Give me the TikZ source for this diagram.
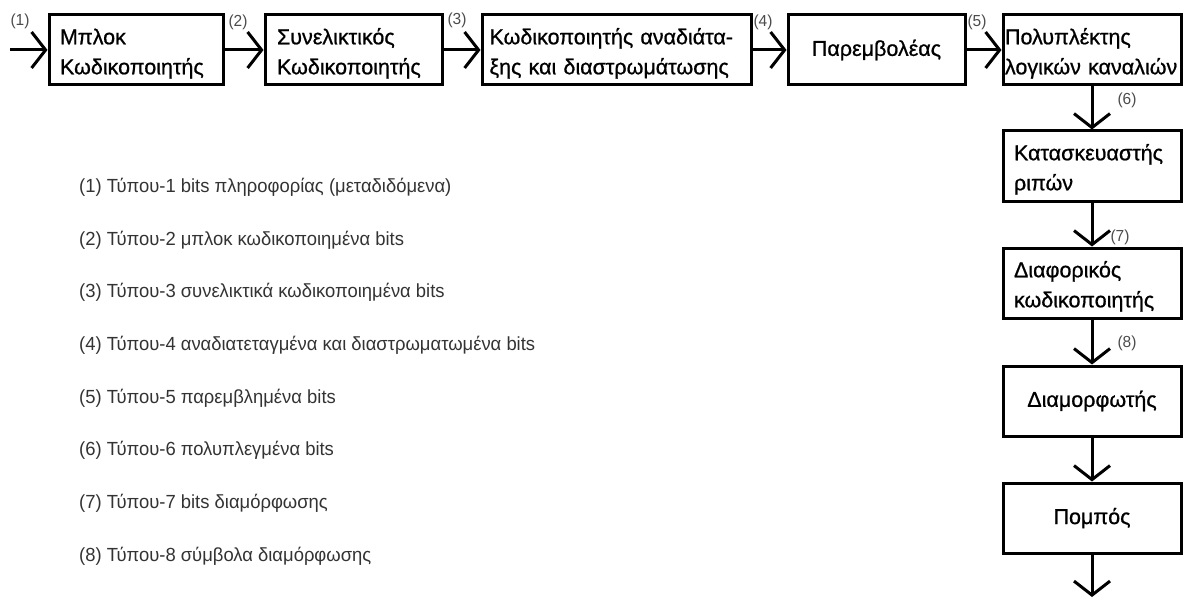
\documentclass[tikz,border=0pt]{standalone}
\usepackage{fontspec}
\setmainfont{Liberation Sans}
\newfontfamily\boxfont[FakeBold=0.8]{Liberation Sans}
\newfontfamily\narrowfont[FakeStretch=0.97]{Liberation Sans}
\usetikzlibrary{arrows.meta}
% strut that lowers the first line of two-line block labels
\newcommand{\toprule}{\rule{0pt}{23pt}}
\begin{document}
\begin{tikzpicture}[x=1pt,y=-1pt,
  block/.style={draw,line width=3pt,minimum height=70pt,inner ysep=0pt,
    font=\boxfont\fontsize{21.5}{30}\selectfont},
  flow/.style={line width=3pt,-{Straight Barb[length=14pt,width=36pt,line width=3pt]}},
  tag/.style={font=\narrowfont\fontsize{16}{16}\selectfont,text=black!70,inner sep=0pt},
  legend/.style={font=\narrowfont\fontsize{19}{19}\selectfont,text=black!80,anchor=west,inner sep=0pt}]
\useasboundingbox (0,0) rectangle (1183,599);

% processing chain, top row
\node[block,minimum width=174pt,text width=152pt,align=left] (b1) at (136,50)
  {\toprule Μπλοκ\\Κωδικοποιητής};
\node[block,minimum width=177pt,text width=153pt,align=left] (b2) at (353.5,50)
  {\toprule Συνελικτικός\\Κωδικοποιητής};
\node[block,minimum width=269pt,text width=254pt,align=left] (b3) at (616.5,50)
  {\toprule Κωδικοποιητής αναδιάτα-\\ξης και διαστρωμάτωσης};
\node[block,minimum width=177pt,align=center] (b4) at (876.5,50) {Παρεμβολέας};
\node[block,minimum width=178pt,text width=174pt,inner xsep=0pt,align=left] (b5) at (1092,50)
  {\toprule Πολυπλέκτης\\λογικών καναλιών};

% processing chain, right column
\node[block,minimum width=178pt,text width=156pt,align=left] (b6) at (1092,166)
  {\toprule Κατασκευαστής\\ριπών};
\node[block,minimum width=178pt,text width=156pt,align=left] (b7) at (1092,283)
  {\toprule Διαφορικός\\κωδικοποιητής};
\node[block,minimum width=178pt,align=center] (b8) at (1092,401) {Διαμορφωτής};
\node[block,minimum width=178pt,align=center] (b9) at (1092,518) {Πομπός};

\coordinate (in) at (10,50);
\coordinate (out) at (1092,597);

% connectors
\draw[flow] (in) -- (b1);
\draw[flow] (b1) -- (b2);
\draw[flow] (b2) -- (b3);
\draw[flow] (b3) -- (b4);
\draw[flow] (b4) -- (b5);
\draw[flow] (b5) -- (b6);
\draw[flow] (b6) -- (b7);
\draw[flow] (b7) -- (b8);
\draw[flow] (b8) -- (b9);
\draw[flow] (b9) -- (out);

% bit-type tags
\node[tag] (t1) at (20,21) {(1)};
\node[tag] (t2) at (238,22) {(2)};
\node[tag] (t3) at (457,20) {(3)};
\node[tag] (t4) at (763,22) {(4)};
\node[tag] (t5) at (977,22) {(5)};
\node[tag] (t6) at (1127,100) {(6)};
\node[tag] (t7) at (1120,237) {(7)};
\node[tag] (t8) at (1127,343) {(8)};

% legend
\node[legend] (l1) at (79,187) {(1) Τύπου-1 bits πληροφορίας (μεταδιδόμενα)};
\node[legend] (l2) at (79,240) {(2) Τύπου-2 μπλοκ κωδικοποιημένα bits};
\node[legend] (l3) at (79,292) {(3) Τύπου-3 συνελικτικά κωδικοποιημένα bits};
\node[legend] (l4) at (79,345) {(4) Τύπου-4 αναδιατεταγμένα και διαστρωματωμένα bits};
\node[legend] (l5) at (79,398) {(5) Τύπου-5 παρεμβλημένα bits};
\node[legend] (l6) at (79,450) {(6) Τύπου-6 πολυπλεγμένα bits};
\node[legend] (l7) at (79,503) {(7) Τύπου-7 bits διαμόρφωσης};
\node[legend] (l8) at (79,556) {(8) Τύπου-8 σύμβολα διαμόρφωσης};
\end{tikzpicture}
\end{document}
